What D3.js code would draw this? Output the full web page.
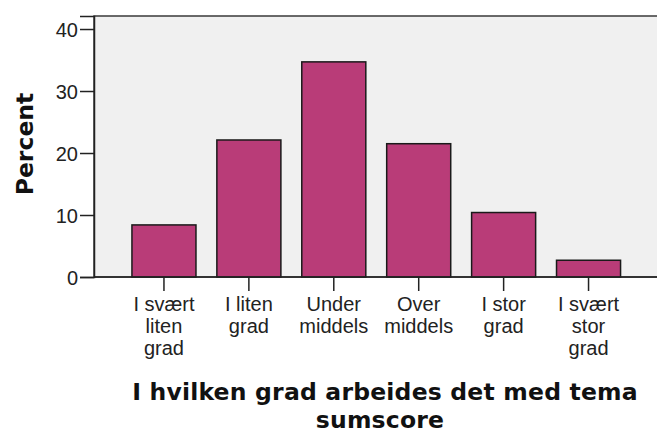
<!DOCTYPE html>
<html>
<head>
<meta charset="utf-8">
<script src="https://cdn.jsdelivr.net/npm/d3@7/dist/d3.min.js"></script>
<style>
  html, body { margin: 0; padding: 0; background: #ffffff; }
  svg { display: block; }
</style>
</head>
<body>
<script>
// ---- data ----
const categories = [
  ["I svært", "liten", "grad"],
  ["I liten", "grad"],
  ["Under", "middels"],
  ["Over", "middels"],
  ["I stor", "grad"],
  ["I svært", "stor", "grad"]
];
const categoryKeys = categories.map(c => c.join(" "));
const percentValues = [8.4, 22.1, 34.7, 21.5, 10.4, 2.7];
const yTickValues = [0, 10, 20, 30, 40];
const yAxisTitle = "Percent";
const xAxisTitleLines = ["I hvilken grad arbeides det med tema", "sumscore"];

// ---- layout ----
const W = 657, H = 434;
const plot = { left: 94, right: 658, top: 16, bottom: 277 };
const boldFont = "'DejaVu Sans', Verdana, sans-serif";
const titleX = [385, 380];

const svg = d3.select("body").append("svg")
  .attr("width", W).attr("height", H)
  .style("font-family", "'Liberation Sans', Arial, sans-serif");

const x = d3.scaleBand()
  .domain(categoryKeys)
  .range([121.5, 631])
  .paddingInner(0.246)
  .paddingOuter(0.123);

const y = d3.scaleLinear()
  .domain([0, 42.1])
  .range([plot.bottom, plot.top]);

// plot background
svg.append("rect")
  .attr("x", plot.left).attr("y", plot.top)
  .attr("width", plot.right - plot.left)
  .attr("height", plot.bottom - plot.top)
  .attr("fill", "#f0f0f0")
  .attr("stroke", "#3a3a3a")
  .attr("stroke-width", 1.5);

// bars
svg.append("g").selectAll("rect")
  .data(percentValues)
  .join("rect")
  .attr("x", (d, i) => x(categoryKeys[i]))
  .attr("y", d => y(d))
  .attr("width", x.bandwidth())
  .attr("height", d => y(0) - y(d))
  .attr("fill", "#b93c78")
  .attr("stroke", "#1a1a1a")
  .attr("stroke-width", 1.5);

// y axis
const yAxis = d3.axisLeft(y)
  .tickValues(yTickValues)
  .tickSize(14)
  .tickPadding(2)
  .tickFormat(d3.format("d"));
const gy = svg.append("g")
  .attr("transform", `translate(${plot.left},0)`)
  .call(yAxis);
gy.select(".domain").attr("stroke", "#222").attr("stroke-width", 1.5);
gy.selectAll(".tick line").attr("stroke", "#222").attr("stroke-width", 1.5);
gy.selectAll(".tick text")
  .attr("fill", "#222")
  .style("font-size", "20px")
  .attr("dy", "0.36em");

// x axis
const xAxis = d3.axisBottom(x).tickSize(14).tickFormat("");
const gx = svg.append("g")
  .attr("transform", `translate(0,${plot.bottom})`)
  .call(xAxis);
gx.select(".domain").remove();
gx.selectAll(".tick line").attr("stroke", "#222").attr("stroke-width", 1.5);
svg.append("line")
  .attr("x1", plot.left).attr("x2", plot.right)
  .attr("y1", plot.bottom).attr("y2", plot.bottom)
  .attr("stroke", "#222").attr("stroke-width", 1.5);

gx.selectAll(".tick").each(function(d, i) {
  const t = d3.select(this).append("text")
    .attr("fill", "#222")
    .attr("text-anchor", "middle")
    .style("font-size", "20px");
  categories[i].forEach((line, j) => {
    t.append("tspan").attr("x", 0).attr("y", 34 + j * 22).text(line);
  });
});

// y axis title
svg.append("text")
  .attr("transform", `translate(33,144) rotate(-90)`)
  .attr("text-anchor", "middle")
  .attr("fill", "#111")
  .style("font-family", boldFont)
  .style("font-size", "23.5px")
  .style("font-weight", "bold")
  .text(yAxisTitle);

// x axis title
xAxisTitleLines.forEach((line, j) => {
  svg.append("text")
    .attr("text-anchor", "middle")
    .attr("fill", "#111")
    .style("font-family", boldFont)
    .style("font-size", "23.5px")
    .style("font-weight", "bold")
    .style("letter-spacing", "0.2px")
    .attr("x", titleX[j]).attr("y", 400 + j * 28)
    .text(line);
});
</script>
</body>
</html>
